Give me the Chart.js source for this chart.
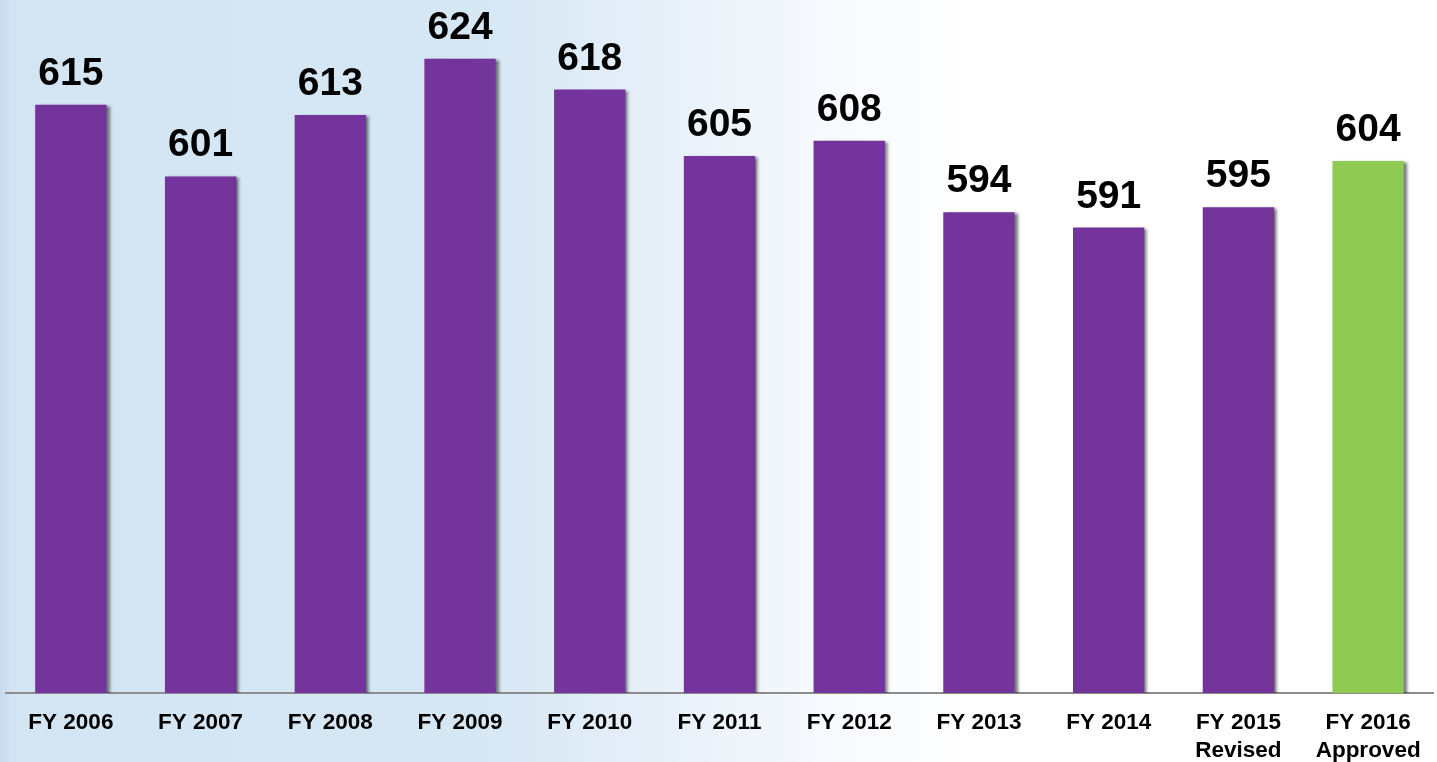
<!DOCTYPE html>
<html>
<head>
<meta charset="utf-8">
<script src="https://cdn.jsdelivr.net/npm/chart.js@4.4.1/dist/chart.umd.min.js"></script>
<style>
    html, body { margin: 0; padding: 0; background: #ffffff; }
    #chart { display: block; }
</style>
</head>
<body>
<canvas id="chart" width="1437" height="762"></canvas>
<script>
    "use strict";

    var categories = [
        ['FY 2006'], ['FY 2007'], ['FY 2008'], ['FY 2009'], ['FY 2010'], ['FY 2011'],
        ['FY 2012'], ['FY 2013'], ['FY 2014'], ['FY 2015', 'Revised'], ['FY 2016', 'Approved']
    ];
    var positions = [615, 601, 613, 624, 618, 605, 608, 594, 591, 595, 604];
    var barColors = ['#73359b', '#73359b', '#73359b', '#73359b', '#73359b', '#73359b',
        '#73359b', '#73359b', '#73359b', '#73359b', '#8fca52'];

    var FONT = '"Liberation Sans", Arial, Helvetica, sans-serif';

    // light blue wash on the left fading to white
    var backgroundPlugin = {
        id: 'background',
        beforeDraw(chart) {
            let ctx = chart.ctx;
            let w = chart.width, h = chart.height;
            let grad = ctx.createLinearGradient(0, 0, w, 0);
            grad.addColorStop(0, '#c8dbed');
            grad.addColorStop(0.008, '#d3e4f3');
            grad.addColorStop(0.33, '#d6e7f4');
            grad.addColorStop(0.44, '#e4eef8');
            grad.addColorStop(0.57, '#f6f9fd');
            grad.addColorStop(0.68, '#ffffff');
            grad.addColorStop(1, '#ffffff');
            ctx.save();
            ctx.fillStyle = grad;
            ctx.fillRect(0, 0, w, h);
            ctx.restore();
        }
    };

    // soft dark shadow on the right of each bar
    var shadowPlugin = {
        id: 'barShadow',
        beforeDatasetsDraw(chart) {
            let ctx = chart.ctx;
            ctx.save();
            ctx.shadowColor = 'rgba(0, 0, 0, 0.55)';
            ctx.shadowBlur = 3;
            ctx.shadowOffsetX = 3;
            ctx.shadowOffsetY = 1;
        },
        afterDatasetsDraw(chart) {
            chart.ctx.restore();
        }
    };

    // value labels above each bar
    var valueLabelPlugin = {
        id: 'valueLabels',
        afterDatasetsDraw(chart) {
            let ctx = chart.ctx;
            let meta = chart.getDatasetMeta(0);
            ctx.save();
            ctx.font = 'bold 39px ' + FONT;
            ctx.fillStyle = '#000000';
            ctx.textAlign = 'center';
            ctx.textBaseline = 'alphabetic';
            meta.data.forEach((bar, i) => {
                ctx.fillText(String(positions[i]), bar.x, bar.y - 20);
            });
            ctx.restore();
        }
    };

    var ctx = document.getElementById('chart').getContext('2d');
    var chart = new Chart(ctx, {
        type: 'bar',
        data: {
            labels: categories,
            datasets: [{
                data: positions,
                backgroundColor: barColors,
                borderWidth: 0,
                barPercentage: 0.55,
                categoryPercentage: 1.0
            }]
        },
        options: {
            responsive: false,
            animation: false,
            events: [],
            layout: {
                padding: { left: 6, right: 4, top: 0, bottom: 0 }
            },
            plugins: {
                legend: { display: false },
                tooltip: { enabled: false },
                title: { display: false }
            },
            scales: {
                x: {
                    grid: { display: false, drawTicks: false },
                    border: { display: true, color: '#8c8c8c', width: 2 },
                    afterFit(scale) {
                        scale.height = 69;
                    },
                    ticks: {
                        color: '#000000',
                        padding: 15,
                        maxRotation: 0,
                        autoSkip: false,
                        font: { family: FONT, size: 22.5, weight: 'bold', lineHeight: 1.28 }
                    }
                },
                y: {
                    display: false,
                    min: 500,
                    max: 635.5
                }
            }
        },
        plugins: [backgroundPlugin, shadowPlugin, valueLabelPlugin]
    });
</script>
</body>
</html>
